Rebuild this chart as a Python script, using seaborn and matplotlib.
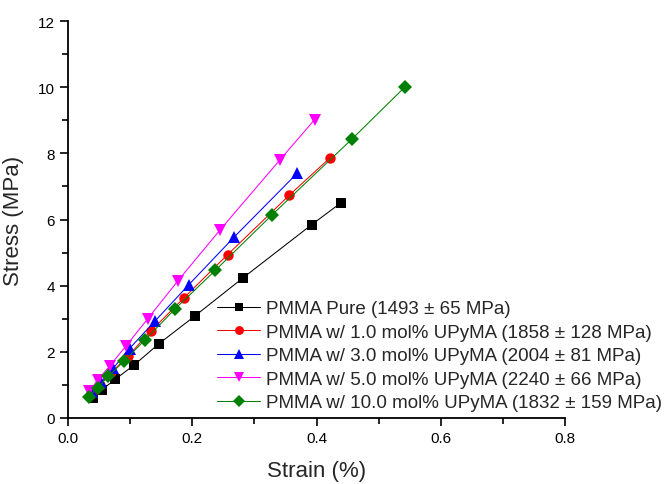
import matplotlib
matplotlib.use("Agg")
import matplotlib.pyplot as plt
import seaborn as sns
import pandas as pd
from matplotlib.ticker import MultipleLocator

# ---- data ----
pure_x = [0.040, 0.055, 0.076, 0.107, 0.146, 0.204, 0.282, 0.392, 0.439]
pure_y = [0.61, 0.86, 1.17, 1.61, 2.24, 3.08, 4.24, 5.84, 6.50]

m1_x = [0.037, 0.051, 0.070, 0.097, 0.134, 0.186, 0.257, 0.356, 0.4215]
m1_y = [0.72, 1.01, 1.38, 1.88, 2.64, 3.62, 4.94, 6.73, 7.86]

m3_x = [0.038, 0.053, 0.073, 0.099, 0.140, 0.194, 0.268, 0.369]
m3_y = [0.78, 1.09, 1.51, 2.10, 2.93, 4.02, 5.48, 7.40]

m5_x = [0.034, 0.048, 0.067, 0.093, 0.128, 0.177, 0.245, 0.341, 0.397]
m5_y = [0.81, 1.15, 1.57, 2.17, 2.99, 4.15, 5.69, 7.80, 9.02]

m10_x = [0.033, 0.048, 0.065, 0.090, 0.124, 0.172, 0.237, 0.329, 0.457, 0.542]
m10_y = [0.63, 0.92, 1.26, 1.72, 2.36, 3.29, 4.46, 6.15, 8.43, 10.0]

labels = [
    "PMMA Pure (1493 \u00b1 65 MPa)",
    "PMMA w/ 1.0 mol% UPyMA (1858 \u00b1 128 MPa)",
    "PMMA w/ 3.0 mol% UPyMA (2004 \u00b1 81 MPa)",
    "PMMA w/ 5.0 mol% UPyMA (2240 \u00b1 66 MPa)",
    "PMMA w/ 10.0 mol% UPyMA (1832 \u00b1 159 MPa)",
]
xticks = [0.0, 0.2, 0.4, 0.6, 0.8]
yticks = [0, 2, 4, 6, 8, 10, 12]

series = [(pure_x, pure_y), (m1_x, m1_y), (m3_x, m3_y), (m5_x, m5_y), (m10_x, m10_y)]
colors = ["#000000", "#FF0000", "#0000FF", "#FF00FF", "#008000"]
markers = ["s", "o", "^", "v", "D"]
msizes = [6.5, 7.5, 8.5, 8.5, 7]

sns.set_style("ticks")
plt.rcParams["font.family"] = ["Liberation Sans", "DejaVu Sans"]

fig = plt.figure(figsize=(6.68, 4.85), dpi=100)
ax = fig.add_axes([68 / 668, 1 - 419 / 485, (565 - 68) / 668, (419 - 22) / 485])

for (xs, ys), lab, c, m, ms in zip(series, labels, colors, markers, msizes):
    df = pd.DataFrame({"x": xs, "y": ys})
    sns.lineplot(data=df, x="x", y="y", ax=ax, sort=False, color=c, marker=m,
                 markersize=ms, markeredgewidth=0, linewidth=0.75, label=lab)

ax.set_xlim(0, 0.8)
ax.set_ylim(0, 12)
ax.set_xticks(xticks)
ax.set_xticklabels([f"{v:.1f}" for v in xticks])
ax.set_yticks(yticks)
ax.set_yticklabels([str(v) for v in yticks])
ax.xaxis.set_minor_locator(MultipleLocator(0.1))
ax.yaxis.set_minor_locator(MultipleLocator(1))
ax.tick_params(axis="both", which="major", direction="out", length=6, width=1.2,
               labelsize=11, color="black", labelcolor="black")
ax.tick_params(axis="both", which="minor", direction="out", length=4, width=1.2, color="black")
for s in ["left", "bottom"]:
    ax.spines[s].set_linewidth(1.3)
    ax.spines[s].set_color("black")
for s in ["top", "right"]:
    ax.spines[s].set_visible(False)

ax.set_xlabel("Strain (%)", fontsize=16, labelpad=11)
ax.set_ylabel("Stress (MPa)", fontsize=16, labelpad=10)

leg = ax.legend(loc="upper left", bbox_to_anchor=(217 / 668, 1 - 301 / 485),
                bbox_transform=fig.transFigure, frameon=False, fontsize=13.5,
                handlelength=2.3, handletextpad=0.3, labelspacing=0.34,
                borderpad=0, borderaxespad=0, markerscale=0.85)

fig.savefig("out.png", dpi=100)
